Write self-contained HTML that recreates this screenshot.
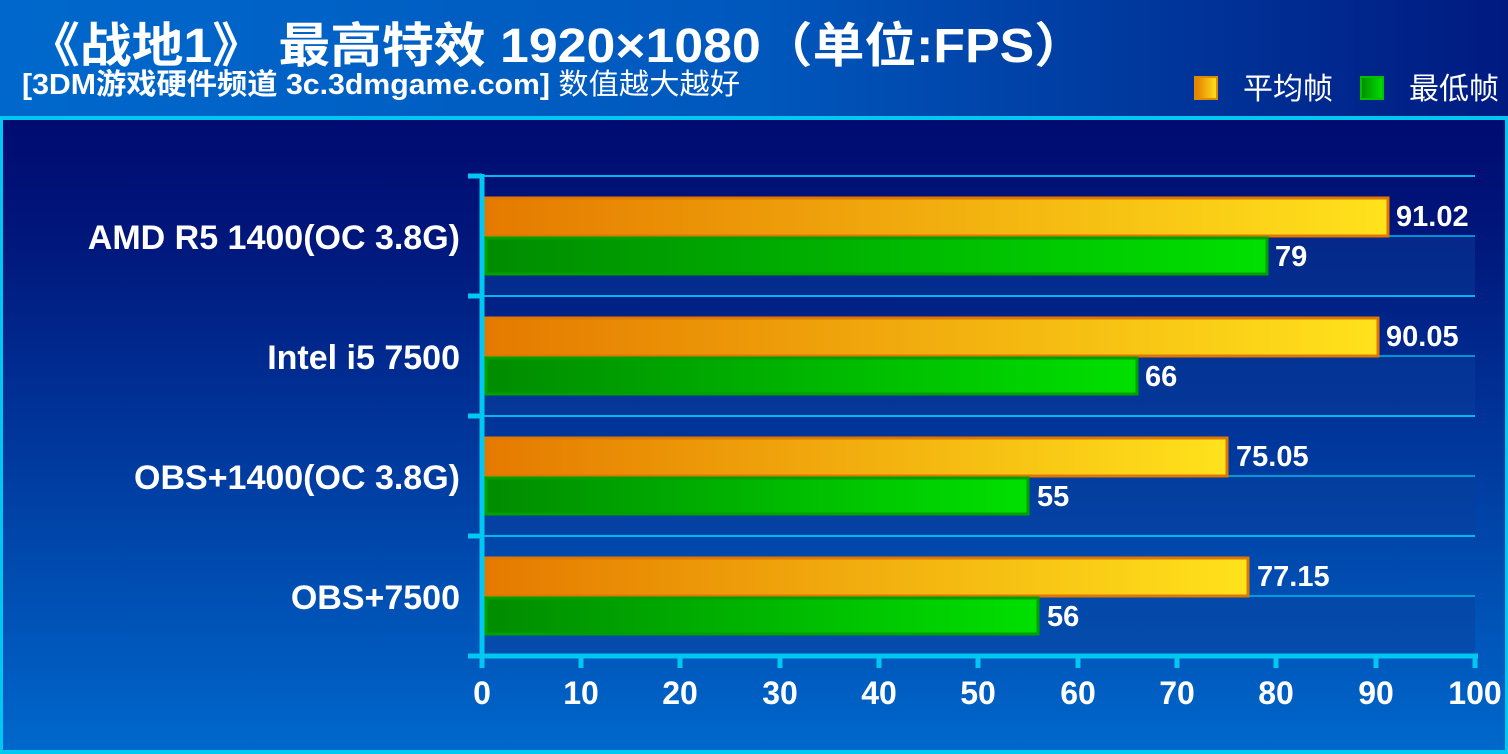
<!DOCTYPE html>
<html><head><meta charset="utf-8"><style>
body{margin:0;width:1508px;height:754px;overflow:hidden;background:#000066}
svg{display:block}
text{font-family:"Liberation Sans","Noto Sans CJK SC",sans-serif;fill:#fff}
</style></head><body>
<svg width="1508" height="754" viewBox="0 0 1508 754">
<defs>
<linearGradient id="hdr" x1="0" y1="0" x2="1" y2="0"><stop offset="0" stop-color="#0068cc"/><stop offset="0.5" stop-color="#0058bd"/><stop offset="1" stop-color="#001a80"/></linearGradient>
<linearGradient id="bg" x1="0" y1="0" x2="0" y2="1"><stop offset="0" stop-color="#000066"/><stop offset="0.3" stop-color="#00157a"/><stop offset="1" stop-color="#0068cc"/></linearGradient>
<linearGradient id="or" x1="0" y1="0" x2="1" y2="0"><stop offset="0" stop-color="#e57a00"/><stop offset="1" stop-color="#ffe21c"/></linearGradient>
<linearGradient id="gr" x1="0" y1="0" x2="1" y2="0"><stop offset="0" stop-color="#008c00"/><stop offset="1" stop-color="#00e000"/></linearGradient>
</defs>
<rect x="0" y="0" width="1508" height="754" fill="url(#bg)"/>
<rect x="0" y="0" width="1508" height="117" fill="url(#hdr)"/>
<rect x="0" y="116" width="1508" height="4" fill="#00c8f0"/>
<rect x="0" y="116" width="3" height="638" fill="#00c8f0"/>
<rect x="1505" y="116" width="3" height="638" fill="#00c8f0"/>
<rect x="0" y="750" width="1508" height="4" fill="#00c8f0"/>
<text x="28" y="62" font-size="48" font-weight="bold" textLength="1058" lengthAdjust="spacingAndGlyphs">《战地1》 最高特效 1920×1080（单位:FPS）</text>
<text x="22" y="94" font-size="29" font-weight="bold" textLength="718" lengthAdjust="spacingAndGlyphs">[3DM游戏硬件频道 3c.3dmgame.com] <tspan font-weight="normal">数值越大越好</tspan></text>
<rect x="1195" y="77" width="22" height="22" fill="url(#or)" stroke="#e08a00" stroke-width="2"/>
<text x="1243" y="99" font-size="30">平均帧</text>
<rect x="1361" y="77" width="22" height="22" fill="url(#gr)" stroke="#00c000" stroke-width="2"/>
<text x="1409" y="99" font-size="30">最低帧</text>
<g fill="#0a3f9c" opacity="0.45">
<rect x="484" y="236" width="991" height="58"/>
<rect x="484" y="356" width="991" height="58"/>
<rect x="484" y="476" width="991" height="58"/>
<rect x="484" y="596" width="991" height="58"/>
</g>
<g stroke="#00b8ee" stroke-width="2">
<line x1="482" y1="176" x2="1475" y2="176"/>
<line x1="482" y1="296" x2="1475" y2="296"/>
<line x1="482" y1="416" x2="1475" y2="416"/>
<line x1="482" y1="536" x2="1475" y2="536"/>
<line x1="482" y1="236" x2="1475" y2="236" stroke-width="1.5"/>
<line x1="482" y1="356" x2="1475" y2="356" stroke-width="1.5"/>
<line x1="482" y1="476" x2="1475" y2="476" stroke-width="1.5"/>
<line x1="482" y1="596" x2="1475" y2="596" stroke-width="1.5"/>
</g>
<g>
<rect x="486" y="198" width="902" height="38" fill="url(#or)" stroke="#e07800" stroke-width="3"/>
<rect x="486" y="238" width="781" height="36" fill="url(#gr)" stroke="#00a000" stroke-width="3"/>
<rect x="486" y="318" width="892" height="38" fill="url(#or)" stroke="#e07800" stroke-width="3"/>
<rect x="486" y="358" width="651" height="36" fill="url(#gr)" stroke="#00a000" stroke-width="3"/>
<rect x="486" y="438" width="741" height="38" fill="url(#or)" stroke="#e07800" stroke-width="3"/>
<rect x="486" y="478" width="542" height="36" fill="url(#gr)" stroke="#00a000" stroke-width="3"/>
<rect x="486" y="558" width="762" height="38" fill="url(#or)" stroke="#e07800" stroke-width="3"/>
<rect x="486" y="598" width="552" height="36" fill="url(#gr)" stroke="#00a000" stroke-width="3"/>
</g>
<g font-size="29" font-weight="bold">
<text x="1396" y="226">91.02</text><text x="1275" y="266">79</text>
<text x="1386" y="346">90.05</text><text x="1145" y="386">66</text>
<text x="1236" y="466">75.05</text><text x="1037" y="506">55</text>
<text x="1257" y="586">77.15</text><text x="1047" y="626">56</text>
</g>
<g font-size="34" font-weight="bold" text-anchor="end">
<text x="460" y="249">AMD R5 1400(OC 3.8G)</text>
<text x="460" y="369">Intel i5 7500</text>
<text x="460" y="489">OBS+1400(OC 3.8G)</text>
<text x="460" y="609">OBS+7500</text>
</g>
<g stroke="#00c8f0" stroke-width="5">
<line x1="482" y1="174" x2="482" y2="668"/>
<line x1="468" y1="656" x2="1478" y2="656"/>
<line x1="468" y1="176" x2="482" y2="176"/><line x1="468" y1="296" x2="482" y2="296"/>
<line x1="468" y1="416" x2="482" y2="416"/><line x1="468" y1="536" x2="482" y2="536"/>
<line x1="581" y1="656" x2="581" y2="668"/><line x1="680" y1="656" x2="680" y2="668"/>
<line x1="780" y1="656" x2="780" y2="668"/><line x1="879" y1="656" x2="879" y2="668"/>
<line x1="978" y1="656" x2="978" y2="668"/><line x1="1078" y1="656" x2="1078" y2="668"/>
<line x1="1177" y1="656" x2="1177" y2="668"/><line x1="1276" y1="656" x2="1276" y2="668"/>
<line x1="1376" y1="656" x2="1376" y2="668"/><line x1="1475" y1="654" x2="1475" y2="668"/>
</g>
<g font-size="32" font-weight="bold" text-anchor="middle">
<text x="482" y="704">0</text><text x="581" y="704">10</text><text x="680" y="704">20</text>
<text x="780" y="704">30</text><text x="879" y="704">40</text><text x="978" y="704">50</text>
<text x="1078" y="704">60</text><text x="1177" y="704">70</text><text x="1276" y="704">80</text>
<text x="1376" y="704">90</text><text x="1475" y="704">100</text>
</g>
</svg>
</body></html>
